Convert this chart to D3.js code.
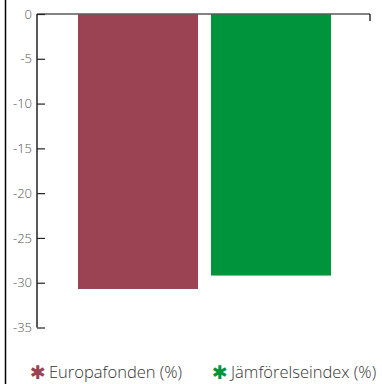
<!DOCTYPE html>
<html>
<head>
<meta charset="utf-8">
<script src="https://cdn.jsdelivr.net/npm/d3@7"></script>
<style>
  html, body { margin: 0; padding: 0; background: #fff; }
  svg { display: block; }
</style>
</head>
<body>
<svg id="chart" width="382" height="384"></svg>
<script>
// Series and axis data
const categories = ["Europafonden (%)", "Jämförelseindex (%)"];
const values = [-30.7, -29.2];
const colors = ["#9b4352", "#00943d"];
const tickValues = [0, -5, -10, -15, -20, -25, -30, -35];

const svg = d3.select("#chart");
const font = "'Open Sans', 'Noto Sans', sans-serif";

const plot = { left: 37, right: 370, top: 14, bottom: 327.5 };

const y = d3.scaleLinear().domain([0, -35]).range([plot.top, plot.bottom]);
const x = d3.scaleBand().domain(categories)
  .range([78, 331]).paddingInner(0.0977).paddingOuter(0);

// Left frame line
svg.append("line")
  .attr("x1", 5.5).attr("x2", 5.5).attr("y1", 0).attr("y2", 384)
  .attr("stroke", "#000").attr("stroke-width", 1.5);

// Bars
svg.selectAll("rect.bar").data(categories).join("rect")
  .attr("class", "bar")
  .attr("x", d => x(d))
  .attr("width", x.bandwidth())
  .attr("y", y(0))
  .attr("height", (d, i) => y(values[i]) - y(0))
  .attr("fill", (d, i) => colors[i]);

// Zero baseline with end tick
svg.append("line")
  .attr("x1", plot.left).attr("x2", plot.right)
  .attr("y1", y(0)).attr("y2", y(0))
  .attr("stroke", "#5a5a5a").attr("stroke-width", 1.5);
svg.append("line")
  .attr("x1", plot.right).attr("x2", plot.right)
  .attr("y1", y(0)).attr("y2", y(0) + 7)
  .attr("stroke", "#000").attr("stroke-width", 1.2);

// Y axis: ticks inside, labels outside
const yAxis = d3.axisRight(y).tickValues(tickValues).tickSize(8).tickFormat(d => String(d));
const ag = svg.append("g").attr("transform", `translate(${plot.left},0)`).call(yAxis);
ag.select(".domain").attr("stroke", "#222").attr("stroke-width", 1.5).attr("d", `M0,${y(0)}V${y(-35)}`);
ag.selectAll(".tick line").attr("stroke", "#222").attr("stroke-width", 1.2);
ag.selectAll(".tick text")
  .attr("x", -5).attr("text-anchor", "end")
  .attr("fill", "#555").style("font-family", font).style("font-size", "13px").style("font-weight", "300");

// Legend
const legendX = [30, 212];
const lg = svg.selectAll("g.legend").data(categories).join("g")
  .attr("class", "legend")
  .attr("transform", (d, i) => `translate(${legendX[i]},378)`);
lg.append("text")
  .attr("fill", (d, i) => colors[i])
  .style("font-family", "'DejaVu Sans', sans-serif").style("font-size", "19px").style("font-weight", "bold")
  .attr("y", 1)
  .text("✱");
lg.append("text")
  .attr("x", 19)
  .attr("fill", "#333")
  .style("font-family", font).style("font-size", "16.5px").style("font-weight", "300")
  .text(d => d);
</script>
</body>
</html>
